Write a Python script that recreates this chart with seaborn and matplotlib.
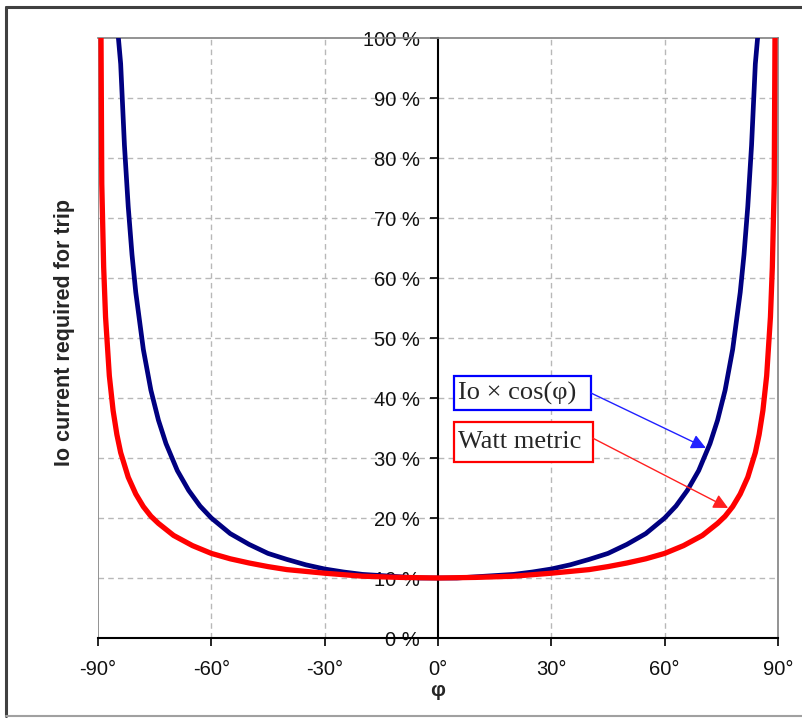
import matplotlib
matplotlib.use("Agg")
import matplotlib.pyplot as plt
import seaborn as sns
import pandas as pd
from matplotlib.patches import Rectangle
from matplotlib.lines import Line2D

# Io x cos(phi) curve (percent of nominal)
blue_angle = [-84.6, -84, -83, -82, -81, -80, -78, -76, -74, -72, -69, -66, -63, -60, -55, -50, -45,
              -40, -35, -30, -25, -20, -15, -10, -5, 0, 5, 10, 15, 20, 25, 30, 35, 40, 45, 50, 55,
              60, 63, 66, 69, 72, 74, 76, 78, 80, 81, 82, 83, 84, 84.6]
blue_value = [100, 95.7, 82.1, 71.9, 63.9, 57.6, 48.1, 41.3, 36.3, 32.4, 27.9, 24.6, 22.0, 20.0, 17.4,
              15.6, 14.1, 13.1, 12.2, 11.5, 11.0, 10.6, 10.4, 10.2, 10.0, 10.0, 10.0, 10.2, 10.4, 10.6,
              11.0, 11.5, 12.2, 13.1, 14.1, 15.6, 17.4, 20.0, 22.0, 24.6, 27.9, 32.4, 36.3, 41.3, 48.1,
              57.6, 63.9, 71.9, 82.1, 95.7, 100]

# Watt metric curve (percent of nominal)
red_angle = [-89.2, -89, -88.5, -88, -87, -86, -85, -84, -82, -80, -78, -76, -74, -70, -65, -60, -55,
             -50, -45, -40, -30, -20, -10, 0, 10, 20, 30, 40, 45, 50, 55, 60, 65, 70, 74, 76, 78, 80,
             82, 84, 85, 86, 87, 88, 88.5, 89, 89.2]
red_value = [100, 75.7, 61.8, 53.5, 43.7, 37.9, 33.9, 30.9, 26.8, 24.0, 21.9, 20.3, 19.1, 17.1, 15.4,
             14.1, 13.2, 12.5, 11.9, 11.4, 10.8, 10.3, 10.1, 10.0, 10.1, 10.3, 10.8, 11.4, 11.9, 12.5,
             13.2, 14.1, 15.4, 17.1, 19.1, 20.3, 21.9, 24.0, 26.8, 30.9, 33.9, 37.9, 43.7, 53.5, 61.8,
             75.7, 100]

x_ticks = [-90, -60, -30, 0, 30, 60, 90]
x_tick_labels = ["-90°", "-60°", "-30°", "0°", "30°", "60°", "90°"]
y_ticks = [0, 10, 20, 30, 40, 50, 60, 70, 80, 90, 100]
y_tick_labels = ["0 %", "10 %", "20 %", "30 %", "40 %", "50 %", "60 %", "70 %", "80 %", "90 %", "100 %"]

sns.set_theme(style="white")
plt.rcParams["font.family"] = ["Liberation Sans", "DejaVu Sans"]

W, H = 803, 718
fig = plt.figure(figsize=(W / 100, H / 100), dpi=100)
fig.patch.set_facecolor("white")
ax = fig.add_axes([98 / W, 1 - 638 / H, 680 / W, 600 / H])

# spines first (set_position resets tick styling)
ax.spines["left"].set_position(("data", 0))
ax.spines["left"].set_color("black")
ax.spines["left"].set_linewidth(1.5)
ax.spines["bottom"].set_color("black")
ax.spines["bottom"].set_linewidth(1.5)
for s in ["top", "right"]:
    ax.spines[s].set_color("#808080")
    ax.spines[s].set_linewidth(1.2)

df_blue = pd.DataFrame({"phi": blue_angle, "val": blue_value})
df_red = pd.DataFrame({"phi": red_angle, "val": red_value})

# grid
for gx in [-60, -30, 30, 60]:
    ax.axvline(gx, color="#b8b8b8", lw=1.0, ls=(0, (4, 3)), zorder=0)
for gy in [10, 20, 30, 40, 50, 60, 70, 80, 90]:
    ax.axhline(gy, color="#b8b8b8", lw=1.0, ls=(0, (4, 3)), zorder=0)
ax.axvline(-90, color="#808080", lw=1.2, zorder=1)

sns.lineplot(data=df_blue, x="phi", y="val", ax=ax, color="#000080", lw=3.4, sort=False, zorder=3)
sns.lineplot(data=df_red, x="phi", y="val", ax=ax, color="#ff0000", lw=3.8, sort=False, zorder=4)

ax.set_xlim(-90, 90)
ax.set_ylim(0, 100)
ax.set_xticks(x_ticks)
ax.set_xticklabels(x_tick_labels, fontsize=14.5)
ax.set_yticks(y_ticks)
ax.set_yticklabels(y_tick_labels, fontsize=14.5)

ax.tick_params(axis="both", which="major", length=6, width=1.2, color="black", direction="out",
               left=True, bottom=True, labelcolor="#111111")
ax.tick_params(axis="y", pad=7)
ax.tick_params(axis="x", pad=10)

ax.set_xlabel("")
ax.set_ylabel("")
fig.text(438 / W, 1 - 691 / H, "φ", fontsize=15, fontweight="bold", ha="center", va="center")
fig.text(65 / W, 1 - 332 / H, "Io current required for trip", rotation=90, fontsize=15.5,
         fontweight="bold", ha="center", va="center")

serif = ["Liberation Serif", "DejaVu Serif"]
# label boxes (data coordinates)
ax.add_patch(Rectangle((4.24, 38.0), 36.26, 5.67, fc="white", ec="#0000ff", lw=1.6, zorder=6))
ax.add_patch(Rectangle((4.24, 29.33), 36.76, 6.67, fc="white", ec="#ff0000", lw=1.6, zorder=6))
ax.text(5.3, 40.8, "Io × cos(φ)", fontsize=19, family=serif, ha="left", va="center", zorder=7)
ax.text(5.3, 32.7, "Watt metric", fontsize=19, family=serif, ha="left", va="center", zorder=7)
ax.annotate("", xy=(70.9, 31.67), xytext=(40.5, 40.83),
            arrowprops=dict(arrowstyle="-|>", color="#2020ff", lw=1.0, mutation_scale=22,
                            shrinkA=0, shrinkB=0), zorder=6)
ax.annotate("", xy=(76.8, 21.67), xytext=(41.0, 33.3),
            arrowprops=dict(arrowstyle="-|>", color="#ff2020", lw=1.0, mutation_scale=22,
                            shrinkA=0, shrinkB=0), zorder=6)

# outer chart frame
def fline(x0, y0, x1, y1, color, lw):
    fig.lines.append(Line2D([x0 / W, x1 / W], [1 - y0 / H, 1 - y1 / H], transform=fig.transFigure,
                            color=color, lw=lw, zorder=10))

fline(6, 7, 803, 7, "#404040", 2.2)
fline(6, 7, 6, 716, "#404040", 2.2)
fline(6, 716, 803, 716, "#a0a0a0", 1.5)

fig.savefig("out.png", dpi=100)
